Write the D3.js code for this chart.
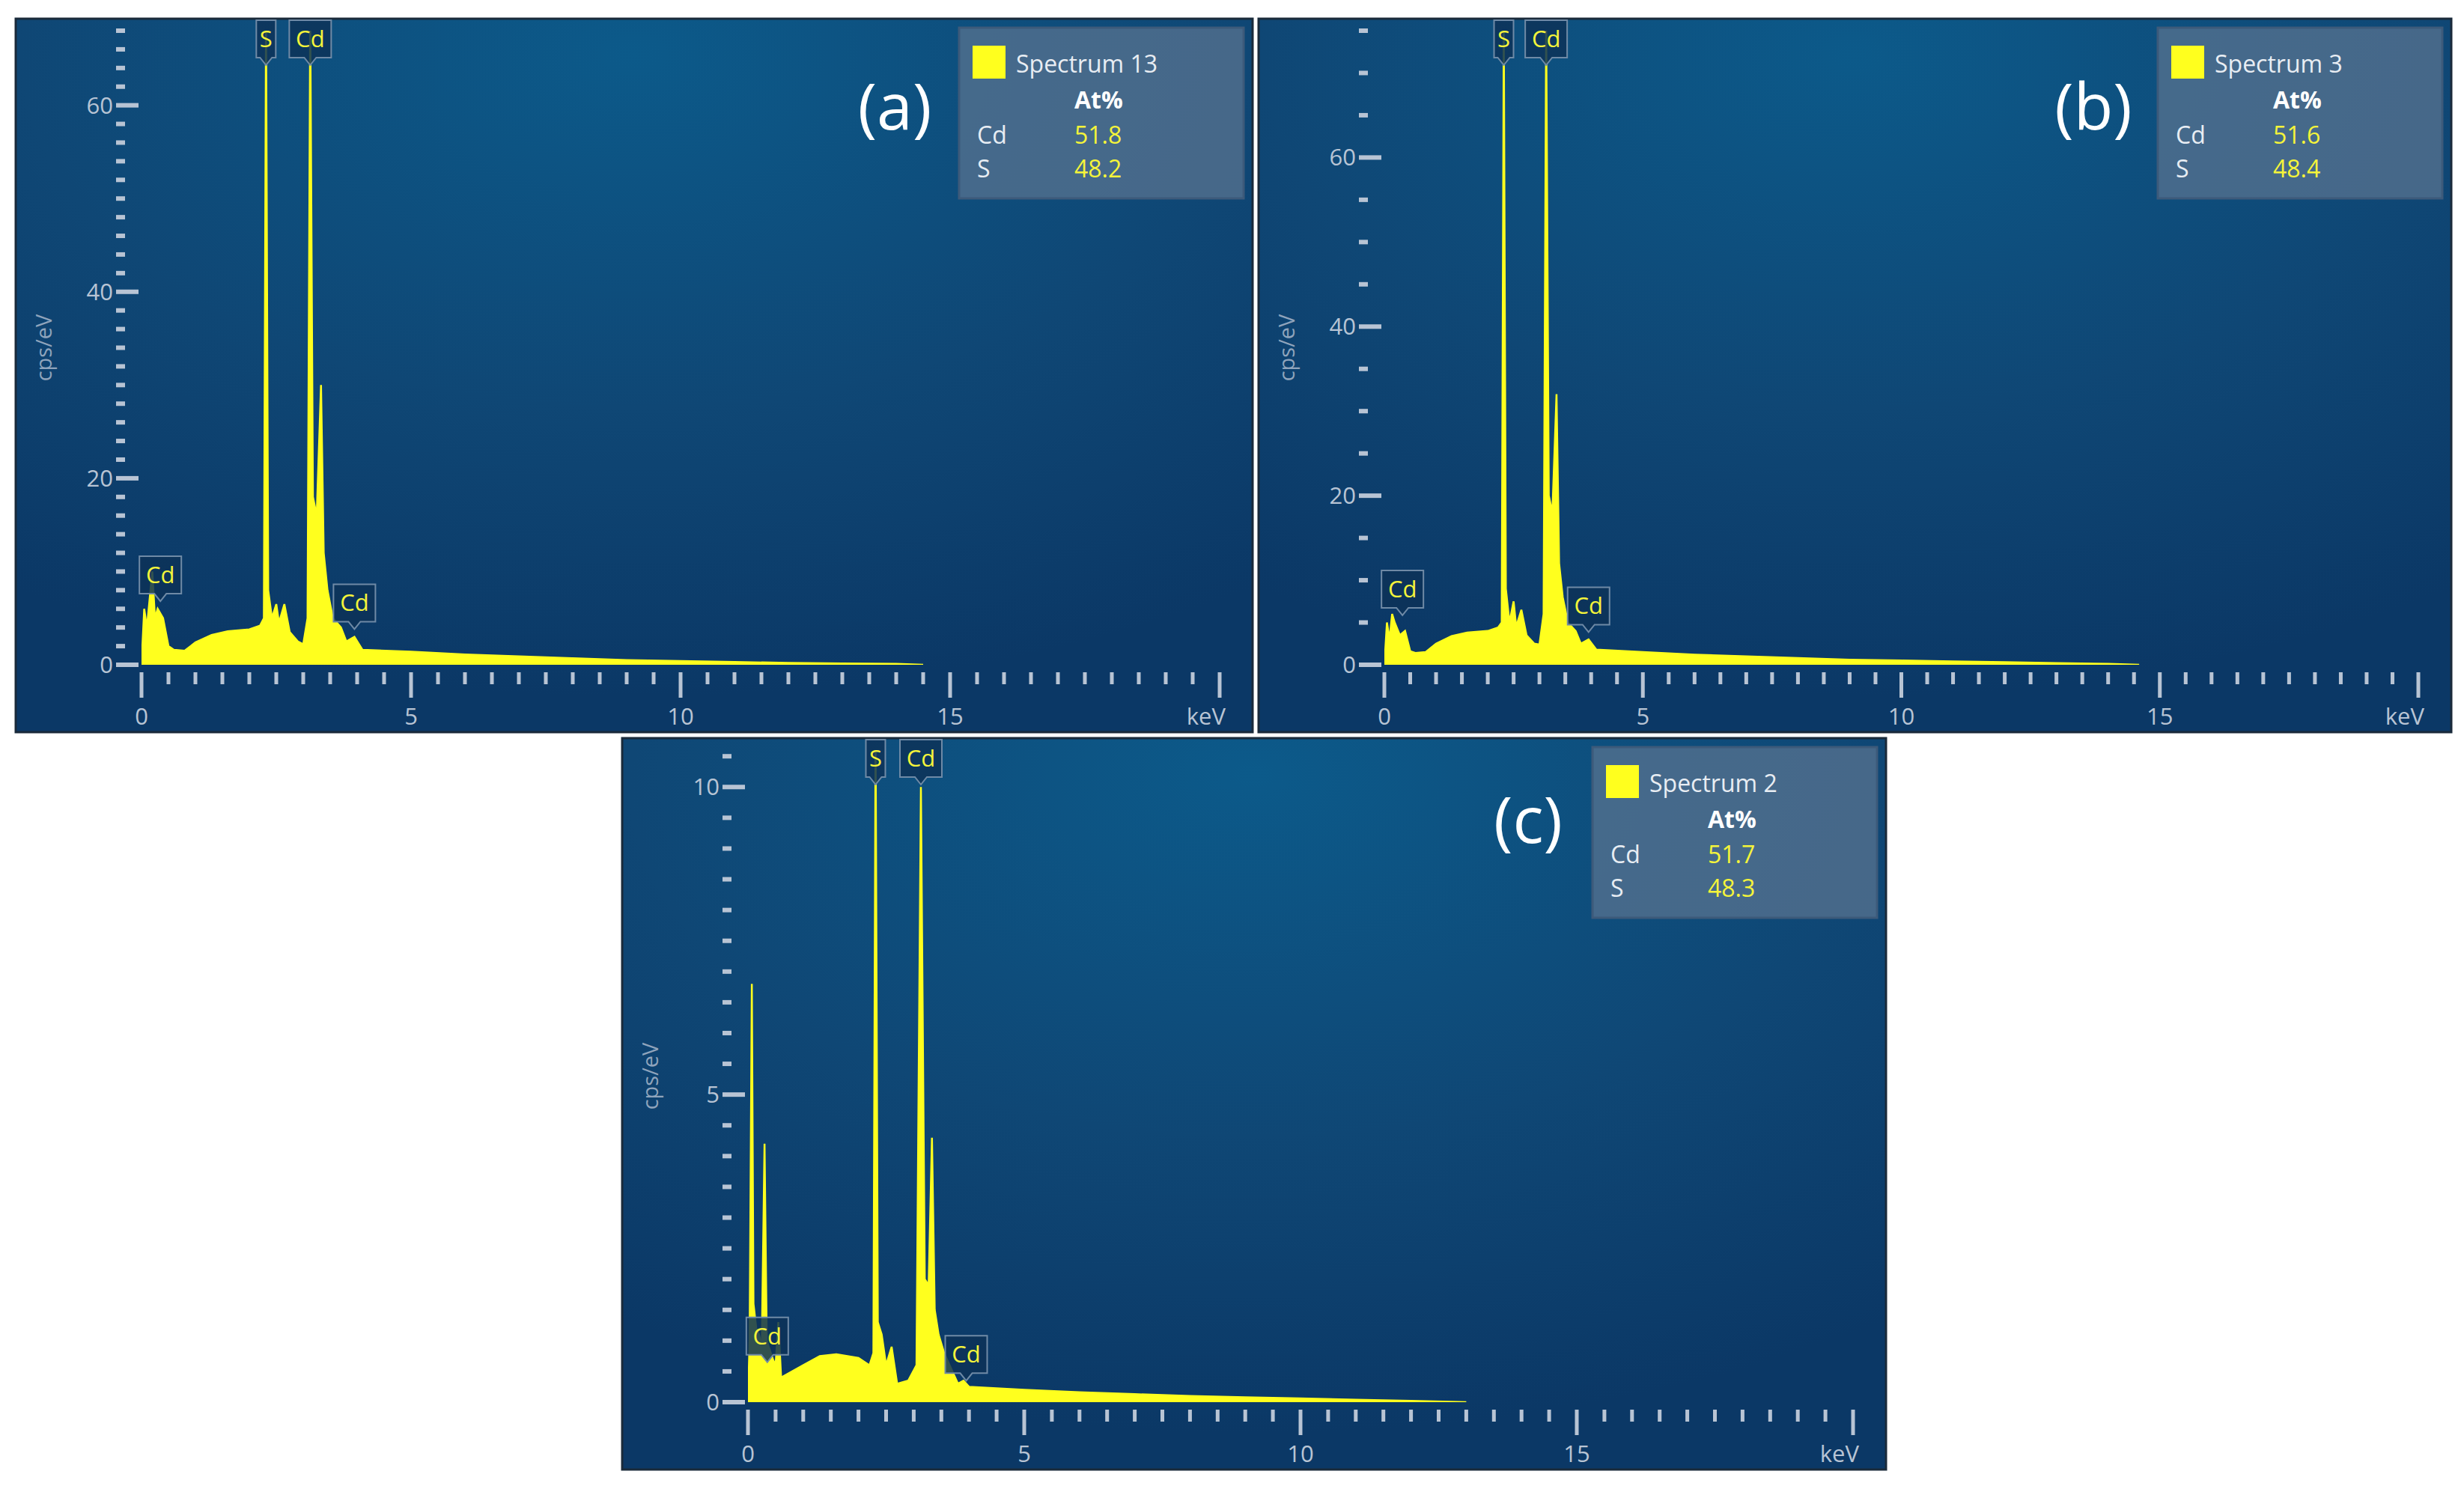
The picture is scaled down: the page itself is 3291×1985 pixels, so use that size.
<!DOCTYPE html>
<html>
<head>
<meta charset="utf-8">
<script src="https://cdn.jsdelivr.net/npm/d3@7"></script>
<style>
body{margin:0;background:#fff;}
text{font-family:"Open Sans","Noto Sans",sans-serif;}
</style>
</head>
<body>
<svg id="fig" width="3291" height="1985"></svg>
<script>
// spectrum envelopes, [keV, cps/eV]
var spectrumA = [[0,0],[0.05,6],[0.1,4],[0.15,7],[0.2,10],[0.25,5],[0.3,6],[0.4,5],[0.5,2],[0.6,1.6],[0.8,1.5],[1.0,2.4],[1.3,3.2],[1.6,3.6],[2.0,3.8],[2.2,4.2],[2.27,5],[2.31,70],[2.35,8],[2.42,5],[2.5,6.5],[2.55,4.5],[2.65,6.5],[2.75,3.5],[2.9,2.5],[3.0,2.2],[3.08,5],[3.13,70],[3.18,18],[3.25,16],[3.33,30],[3.38,12],[3.45,8],[3.55,5],[3.7,4],[3.8,2.5],[3.95,3],[4.1,1.6],[5,1.4],[6,1.1],[7,0.9],[8,0.7],[9,0.5],[10,0.4],[11,0.3],[12,0.2],[13,0.15],[14,0.1],[14.5,0]];
var spectrumB = [[0,0],[0.05,5],[0.1,3],[0.15,6],[0.2,5],[0.3,3.5],[0.4,4],[0.5,1.6],[0.6,1.4],[0.8,1.5],[1.0,2.5],[1.3,3.4],[1.6,3.8],[2.0,4],[2.2,4.4],[2.27,5],[2.31,76],[2.35,9],[2.42,5],[2.5,7.5],[2.55,4.5],[2.65,6.5],[2.75,3.5],[2.9,2.5],[3.0,2.4],[3.08,6],[3.13,76],[3.18,20],[3.25,18],[3.33,32],[3.38,12],[3.45,8],[3.55,5],[3.7,4],[3.8,2.5],[3.95,3],[4.1,1.8],[5,1.5],[6,1.2],[7,1],[8,0.8],[9,0.6],[10,0.5],[11,0.4],[12,0.3],[13,0.2],[14,0.1],[14.6,0]];
var spectrumC = [[0,0],[0.03,1],[0.07,6.8],[0.1,1.6],[0.15,1.2],[0.2,1.1],[0.25,0.9],[0.3,4.2],[0.34,1],[0.45,0.7],[0.5,0.6],[0.55,1.3],[0.6,0.4],[0.8,0.5],[1.0,0.6],[1.3,0.75],[1.6,0.78],[2.0,0.72],[2.2,0.6],[2.27,0.8],[2.31,11],[2.35,1.3],[2.42,1.1],[2.5,0.6],[2.6,0.9],[2.7,0.3],[2.9,0.35],[3.05,0.6],[3.13,10],[3.2,2],[3.27,1.9],[3.33,4.3],[3.38,1.5],[3.45,1.1],[3.55,0.8],[3.7,0.5],[3.8,0.3],[3.9,0.35],[4.0,0.25],[5,0.2],[6,0.16],[7,0.13],[8,0.1],[9,0.08],[10,0.06],[11,0.04],[12,0.02],[13,0]];

var panelTags = ["(a)", "(b)", "(c)"];
var spectrumNames = ["Spectrum 13", "Spectrum 3", "Spectrum 2"];
var cdAt = ["51.8", "51.6", "51.7"];
var sAt = ["48.2", "48.4", "48.3"];
var yMax = [68, 75, 10.6];
var yMajor = [[0,20,40,60], [0,20,40,60], [0,5,10]];
var yMinorStep = [2, 5, 0.5];
var xMajor = [0, 5, 10, 15];
// element markers: [label, keV, cps (null = top of plot)]
var markersA = [["S",2.31,null],["Cd",3.13,null],["Cd",0.35,6.5],["Cd",3.95,3.5]];
var markersB = [["S",2.31,null],["Cd",3.13,null],["Cd",0.35,5.5],["Cd",3.95,3.5]];
var markersC = [["S",2.31,null],["Cd",3.13,null],["Cd",0.35,0.6],["Cd",3.95,0.3]];

var spectra = [spectrumA, spectrumB, spectrumC];
var markers = [markersA, markersB, markersC];
var boxes = [[21,25,1652,953],[1681,25,1593,953],[831,986,1688,977]];

var svg = d3.select("#fig");
var defs = svg.append("defs");
var grad = defs.append("radialGradient").attr("id","bg").attr("cx","0.5").attr("cy","0.05").attr("r","0.9");
grad.append("stop").attr("offset","0").attr("stop-color","#0c5a8a");
grad.append("stop").attr("offset","0.55").attr("stop-color","#0f4775");
grad.append("stop").attr("offset","1").attr("stop-color","#0b3866");

boxes.forEach(function(b, i){
	var g = svg.append("g").attr("transform","translate("+b[0]+","+b[1]+")");
	var w = b[2], h = b[3];
	g.append("rect").attr("width",w).attr("height",h).attr("fill","url(#bg)")
		.attr("stroke","#1a2a3a").attr("stroke-width",3);

	var left = 168, right = w - 44, bottom = h - 90, top = 16;
	var x = d3.scaleLinear().domain([0,20]).range([left,right]);
	var y = d3.scaleLinear().domain([0,yMax[i]]).range([bottom,top]);

	defs.append("clipPath").attr("id","clip"+i).append("rect")
		.attr("x",left).attr("y",top).attr("width",right-left).attr("height",bottom-top);

	// spectrum
	var area = d3.area().x(function(d){return x(d[0]);}).y0(bottom).y1(function(d){return y(d[1]);});
	g.append("path").datum(spectra[i]).attr("d",area).attr("fill","#ffff1e")
		.attr("stroke","#ffff1e").attr("stroke-width",2.5).attr("clip-path","url(#clip"+i+")");

	var tickColor = "#b8c4d4";
	// y ticks
	var minors = d3.range(0, yMax[i] + 1e-9, yMinorStep[i]);
	g.selectAll(".ym").data(minors).enter().append("rect")
		.attr("x",left-34).attr("y",function(d){return y(d)-3;})
		.attr("width",function(d){return yMajor[i].indexOf(Math.round(d*10)/10) >= 0 ? 30 : 12;})
		.attr("height",6).attr("fill",tickColor);
	g.selectAll(".yl").data(yMajor[i]).enter().append("text")
		.attr("x",left-38).attr("y",function(d){return y(d)+11;})
		.attr("text-anchor","end").attr("font-size",31).attr("fill",tickColor).text(function(d){return d;});
	g.append("text").attr("transform","translate("+(left-120)+","+((top+bottom)/2)+") rotate(-90)")
		.attr("text-anchor","middle").attr("font-size",29).attr("fill","#8fa4bc").text("cps/eV");

	// x ticks
	var xm = d3.range(0, 20.001, 0.5);
	g.selectAll(".xm").data(xm).enter().append("rect")
		.attr("x",function(d){return x(d)-2.5;}).attr("y",bottom+10)
		.attr("width",5).attr("height",function(d){return d%5===0 ? 34 : 16;}).attr("fill",tickColor);
	g.selectAll(".xl").data(xMajor).enter().append("text")
		.attr("x",function(d){return x(d);}).attr("y",bottom+80)
		.attr("text-anchor","middle").attr("font-size",31).attr("fill",tickColor).text(function(d){return d;});
	g.append("text").attr("x",right+8).attr("y",bottom+80).attr("text-anchor","end")
		.attr("font-size",31).attr("fill",tickColor).text("keV");

	// element markers
	markers[i].forEach(function(m){
		var bw = m[0] === "S" ? 26 : 56, bh = 50;
		var cx = x(m[1]);
		var by = m[2] === null ? 2 : y(m[2]) - bh - 14;
		var mg = g.append("g");
		mg.append("path").attr("d",
			"M"+(cx-bw/2)+","+by+"h"+bw+"v"+bh+"h"+(-bw/2+8)+"l-8,10l-8,-10h"+(-bw/2+8)+"z")
			.attr("fill","#0d3358").attr("fill-opacity",0.85).attr("stroke","#6f8aa6").attr("stroke-width",2);
		mg.append("text").attr("x",cx).attr("y",by+36).attr("text-anchor","middle")
			.attr("font-size",31).attr("fill","#f4f43a").text(m[0]);
	});

	// panel tag
	g.append("text").attr("x",w-478).attr("y",i===2 ? 140 : 148).attr("text-anchor","middle")
		.attr("font-size",86).attr("fill","#ffffff").text(panelTags[i]);

	// legend
	var lx = w - 392, ly = 12, lw = 380, lh = 228;
	var lg = g.append("g").attr("transform","translate("+lx+","+ly+")");
	lg.append("rect").attr("width",lw).attr("height",lh).attr("fill","#54708e").attr("fill-opacity",0.8)
		.attr("stroke","#3d5a7a").attr("stroke-width",3);
	lg.append("rect").attr("x",18).attr("y",24).attr("width",44).attr("height",44).attr("fill","#ffff1e");
	lg.append("text").attr("x",76).attr("y",60).attr("font-size",32).attr("fill","#e8edf3").text(spectrumNames[i]);
	lg.append("text").attr("x",154).attr("y",108).attr("font-size",32).attr("font-weight","bold").attr("fill","#ffffff").text("At%");
	lg.append("text").attr("x",24).attr("y",155).attr("font-size",32).attr("fill","#e8edf3").text("Cd");
	lg.append("text").attr("x",24).attr("y",200).attr("font-size",32).attr("fill","#e8edf3").text("S");
	lg.append("text").attr("x",154).attr("y",155).attr("font-size",32).attr("fill","#f4f43a").text(cdAt[i]);
	lg.append("text").attr("x",154).attr("y",200).attr("font-size",32).attr("fill","#f4f43a").text(sAt[i]);
});
</script>
</body>
</html>
